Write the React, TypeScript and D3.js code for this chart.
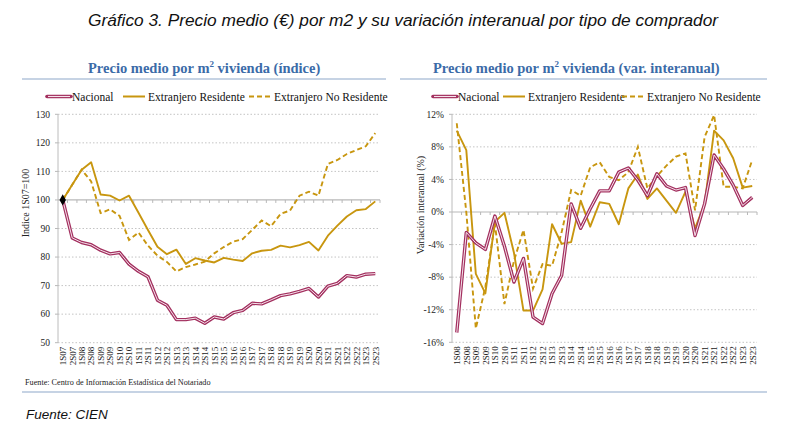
import React from "react";
import * as d3 from "d3";

const catsLeft = ["1S07","2S07","1S08","2S08","1S09","2S09","1S10","2S10","1S11","2S11","1S12","2S12","1S13","2S13","1S14","2S14","1S15","2S15","1S16","2S16","1S17","2S17","1S18","2S18","1S19","2S19","1S20","2S20","1S21","2S21","1S22","2S22","1S23","2S23"];
const catsRight = catsLeft.slice(2);

const nacionalIdx = [100, 86.7, 85.1, 84.3, 82.4, 81.1, 81.6, 77.5, 75.0, 73.1, 64.9, 63.1, 58.1, 58.1, 58.6, 56.8, 59.0, 58.3, 60.5, 61.3, 63.8, 63.6, 65.0, 66.5, 67.1, 68.0, 69.0, 66.0, 69.8, 70.8, 73.5, 73.0, 74.0, 74.2];
const residenteIdx = [100, 105.3, 110.6, 113.2, 101.9, 101.5, 99.8, 101.5, 95.5, 89.5, 83.6, 81.0, 82.6, 77.6, 79.6, 78.8, 78.1, 79.7, 79.1, 78.6, 81.3, 82.2, 82.5, 84.0, 83.4, 84.2, 85.3, 82.3, 87.5, 91.0, 94.2, 96.4, 96.8, 99.5];
const noResidenteIdx = [100, 105.3, 110.6, 106.5, 95.4, 96.7, 94.4, 86.0, 88.6, 84.0, 80.5, 78.3, 75.0, 76.5, 77.4, 78.4, 81.3, 83.5, 85.4, 86.3, 89.5, 92.8, 90.8, 95.1, 96.3, 101.5, 102.9, 101.5, 112.6, 114.0, 116.1, 117.5, 118.8, 123.4];

const nacionalVar = [-14.8, -2.5, -3.8, -4.6, -0.5, -4.2, -8.6, -5.7, -12.9, -13.7, -10.0, -7.8, 1.0, -2.0, 0.4, 2.6, 2.6, 4.9, 5.4, 3.9, 2.0, 4.7, 3.2, 2.7, 3.0, -2.9, 1.0, 7.0, 5.3, 3.3, 0.8, 1.8];
const residenteVar = [10.0, 7.6, -7.6, -10.0, -1.2, -0.1, -5.0, -12.1, -12.1, -9.5, -1.5, -3.9, -3.7, 1.4, -1.8, 1.2, 1.0, -1.5, 2.9, 4.6, 1.6, 2.9, 1.4, -0.1, 2.5, -2.0, 1.0, 10.0, 8.8, 6.6, 3.0, 3.2];
const noResidenteVar = [10.9, 0.0, -14.3, -9.2, -1.4, -11.3, -6.0, -2.2, -9.4, -6.4, -6.6, -2.5, 2.7, 2.0, 5.5, 6.1, 4.3, 3.9, 4.9, 8.0, 2.9, 4.4, 5.7, 6.8, 7.2, 0.2, 9.2, 11.9, 3.1, 3.1, 2.9, 6.4];

const ticksLeft = [50, 60, 70, 80, 90, 100, 110, 120, 130];
const ticksRight = [-16, -12, -8, -4, 0, 4, 8, 12];
const legendNames = ["Nacional", "Extranjero Residente", "Extranjero No Residente"];

const SERIF = "'Liberation Serif', 'Times New Roman', serif";
const SANS = "'Liberation Sans', Arial, sans-serif";
const GOLD = "#c8960f";
const PINK = "#a3305f";
const PINK_IN = "#f6e3ec";
const BLUE = "#3b6ba8";
const GRID = "#c4c4c4";

type PanelProps = {
  cats: string[];
  series: number[][];
  ticks: number[];
  domain: [number, number];
  xr: [number, number];
  yr: [number, number];
  cross: number;
  fmt: (v: number) => string;
  tickX: number;
  title: React.ReactNode;
  titleX: number;
  lineX: [number, number];
  yTitle: string;
  yTitleX: number;
  yTitleY: number;
  legendX: number[];
  diamond?: boolean;
};

function LegendItem({ x, kind, label }: { x: number; kind: number; label: string }) {
  const y = 96.5;
  return (
    <g>
      {kind === 0 ? (
        <g>
          <line x1={x} x2={x + 24} y1={y} y2={y} stroke={PINK} strokeWidth={3.6} strokeLinecap="round" />
          <line x1={x + 1} x2={x + 23} y1={y} y2={y} stroke={PINK_IN} strokeWidth={1.1} />
        </g>
      ) : (
        <line x1={x} x2={x + 22} y1={y} y2={y} stroke={GOLD} strokeWidth={2} strokeDasharray={kind === 2 ? "5,3" : undefined} />
      )}
      <text x={x + 25} y={y + 4} fontSize={11.5} fontFamily={SERIF} fill="#111">{label}</text>
    </g>
  );
}

function Panel(p: PanelProps) {
  const x = d3.scaleBand<string>().domain(p.cats).range(p.xr);
  const bw = x.bandwidth();
  const cx = (i: number) => (x(p.cats[i]) as number) + bw / 2;
  const y = d3.scaleLinear().domain(p.domain).range(p.yr);
  const line = d3.line<number>().x((_, i) => cx(i)).y((d) => y(d));
  const [x0, x1] = p.xr;
  return (
    <g>
      <text x={p.titleX} y={73} fontSize={14.5} fontWeight="bold" fontFamily={SERIF} fill={BLUE}>{p.title}</text>
      <line x1={p.lineX[0]} x2={p.lineX[1]} y1={79} y2={79} stroke="#8ea8c9" strokeWidth={1.2} />
      {legendNames.map((n, i) => (
        <LegendItem key={n} x={p.legendX[i]} kind={i} label={n} />
      ))}
      {p.ticks.map((t) => (
        <g key={t}>
          {t !== p.cross && (
            <line x1={x0} x2={x1} y1={y(t)} y2={y(t)} stroke={GRID} strokeWidth={1} strokeDasharray="1.5,2" />
          )}
          <line x1={x0 - 3} x2={x0} y1={y(t)} y2={y(t)} stroke="#b8b8b8" />
          <text x={p.tickX} y={y(t)} dy="0.35em" textAnchor="end" fontSize={9.5} fontFamily={SERIF} fill="#222">{p.fmt(t)}</text>
        </g>
      ))}
      <line x1={x0} x2={x0} y1={p.yr[1]} y2={p.yr[0]} stroke="#bcbcbc" strokeWidth={1} />
      <line x1={x0} x2={x1} y1={y(p.cross)} y2={y(p.cross)} stroke="#b8b8b8" strokeWidth={1.2} />
      {p.cats.map((c) => (
        <line key={"t" + c} x1={(x(c) as number) + bw} x2={(x(c) as number) + bw} y1={y(p.cross)} y2={y(p.cross) + 3} stroke="#b8b8b8" />
      ))}
      {p.cats.map((c, i) => (
        <text key={c} transform={`translate(${cx(i) + 3.3},${p.yr[0] + 4}) rotate(-90)`} textAnchor="end" fontSize={9} fontFamily={SERIF} fill="#222">{c}</text>
      ))}
      <text transform={`translate(${p.yTitleX},${p.yTitleY}) rotate(-90)`} textAnchor="middle" fontSize={10} fontFamily={SERIF} fill="#222">{p.yTitle}</text>
      <path d={line(p.series[2]) || ""} fill="none" stroke={GOLD} strokeWidth={1.9} strokeDasharray="5,3" />
      <path d={line(p.series[1]) || ""} fill="none" stroke={GOLD} strokeWidth={1.9} strokeLinejoin="round" />
      <path d={line(p.series[0]) || ""} fill="none" stroke={PINK} strokeWidth={3.4} strokeLinejoin="round" />
      <path d={line(p.series[0]) || ""} fill="none" stroke={PINK_IN} strokeWidth={1.0} strokeLinejoin="round" />
      {p.diamond && (
        <path transform={`translate(${cx(0)},${y(p.series[0][0])})`} d={d3.symbol(d3.symbolDiamond, 36)() || ""} fill="#000" />
      )}
    </g>
  );
}

export default function App() {
  const pct = (v: number) => `${v}%`;
  return (
    <div style={{ position: "absolute", left: 0, top: 0, width: 800, height: 438, background: "#fff" }}>
      <svg width={800} height={438} viewBox="0 0 800 438">
        <rect width={800} height={438} fill="#fff" />
        <text x={88} y={26} fontSize={17.3} fontStyle="italic" fontFamily={SANS} fill="#111">
          Gráfico 3. Precio medio (€) por m2 y su variación interanual por tipo de comprador
        </text>
        <Panel
          cats={catsLeft}
          series={[nacionalIdx, residenteIdx, noResidenteIdx]}
          ticks={ticksLeft}
          domain={[50, 130]}
          xr={[58, 380]}
          yr={[342.7, 114.3]}
          cross={100}
          fmt={(v) => `${v}`}
          tickX={50}
          title={<>Precio medio por m<tspan dy={-6} fontSize={9}>2</tspan><tspan dy={6}> vivienda (índice)</tspan></>}
          titleX={88}
          lineX={[22, 386]}
          yTitle="Indice 1S07=100"
          yTitleX={29}
          yTitleY={203}
          legendX={[47, 123, 249]}
          diamond
        />
        <Panel
          cats={catsRight}
          series={[nacionalVar, residenteVar, noResidenteVar]}
          ticks={ticksRight}
          domain={[-16, 12]}
          xr={[452, 757]}
          yr={[342.3, 114.3]}
          cross={0}
          fmt={pct}
          tickX={444}
          title={<>Precio medio por m<tspan dy={-6} fontSize={9}>2</tspan><tspan dy={6}> vivienda (var. interanual)</tspan></>}
          titleX={433}
          lineX={[400, 767]}
          yTitle="Variación interanual (%)"
          yTitleX={424}
          yTitleY={205}
          legendX={[433, 503, 622]}
        />
        <text x={25} y={385} fontSize={8.2} fontFamily={SERIF} fill="#222">Fuente: Centro de Información Estadística del Notariado</text>
        <line x1={22} x2={767} y1={392} y2={392} stroke="#8ea8c9" strokeWidth={1.2} />
        <text x={26} y={419} fontSize={13.5} fontStyle="italic" fontFamily={SANS} fill="#111">Fuente: CIEN</text>
      </svg>
    </div>
  );
}
